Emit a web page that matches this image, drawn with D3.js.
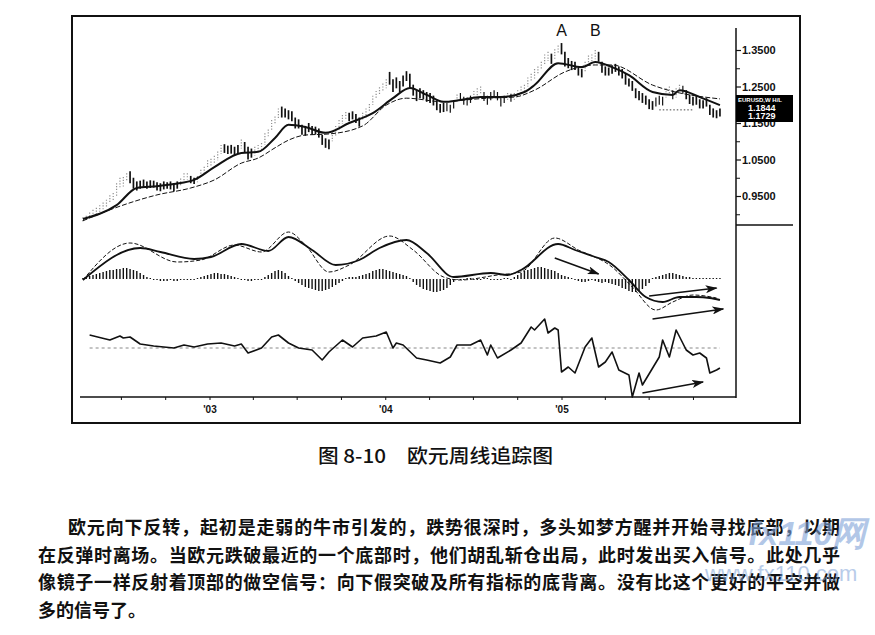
<!DOCTYPE html>
<html><head><meta charset="utf-8">
<script src="https://cdn.jsdelivr.net/npm/d3@7/dist/d3.min.js"></script>
<style>body{margin:0;background:#fff}svg{display:block}</style>
</head><body><svg id="c" width="875" height="635"></svg>
<script>
// ---------------- DATA ----------------
const firstWeek = "2002-04-12";           // weekly bars, one per Friday
const weekHigh = [
 .892,.896,.905,.912,.918,.925,.932,.940,.952,.958,
 .985,1.000,1.002,1.012,1.018,1.000,.990,.992,.995,.990,
 .993,.992,.988,.985,.990,.988,.990,.985,.990,.998,
 1.012,1.012,1.005,1.000,1.005,1.022,1.030,1.048,1.052,1.060,
 1.072,1.090,1.092,1.088,1.090,1.085,1.090,1.105,1.098,1.085,
 1.080,1.085,1.090,1.095,1.122,1.132,1.158,1.168,1.190,1.195,
 1.190,1.185,1.182,1.165,1.160,1.145,1.142,1.150,1.142,1.140,
 1.135,1.118,1.108,1.105,1.125,1.142,1.158,1.172,1.180,1.178,
 1.182,1.175,1.165,1.178,1.190,1.202,1.225,1.238,1.248,1.258,
 1.270,1.290,1.270,1.275,1.265,1.280,1.292,1.285,1.255,1.240,
 1.245,1.240,1.235,1.232,1.225,1.212,1.202,1.205,1.205,1.200,
 1.212,1.228,1.232,1.222,1.220,1.225,1.238,1.245,1.250,1.235,
 1.225,1.235,1.240,1.235,1.220,1.225,1.232,1.230,1.232,1.240,
 1.250,1.255,1.275,1.285,1.298,1.305,1.318,1.338,1.345,1.340,
 1.352,1.362,1.369,1.345,1.328,1.320,1.318,1.305,1.298,1.318,
 1.335,1.338,1.350,1.345,1.318,1.305,1.302,1.308,1.312,1.305,
 1.298,1.285,1.272,1.265,1.245,1.238,1.232,1.225,1.215,1.210,
 1.220,1.225,1.222,1.245,1.250,1.240,1.245,1.255,1.252,1.240,
 1.228,1.222,1.225,1.215,1.212,1.218,1.200,1.190,1.185,1.190];
const weekLow = [
 .877,.882,.889,.895,.900,.907,.912,.920,.930,.938,
 .950,.970,.975,.990,.985,.970,.965,.970,.972,.970,
 .972,.973,.965,.963,.968,.970,.968,.962,.970,.978,
 .990,.995,.985,.983,.988,1.000,1.010,1.025,1.030,1.038,
 1.048,1.065,1.068,1.065,1.066,1.062,1.065,1.080,1.070,1.050,
 1.055,1.060,1.068,1.075,1.090,1.110,1.130,1.145,1.160,1.165,
 1.165,1.160,1.155,1.135,1.135,1.118,1.115,1.125,1.118,1.118,
 1.110,1.090,1.082,1.078,1.100,1.115,1.130,1.148,1.160,1.155,
 1.160,1.150,1.140,1.155,1.165,1.180,1.200,1.215,1.225,1.235,
 1.245,1.255,1.235,1.245,1.235,1.250,1.265,1.245,1.225,1.210,
 1.218,1.215,1.208,1.205,1.198,1.185,1.178,1.180,1.182,1.178,
 1.190,1.205,1.212,1.200,1.198,1.205,1.218,1.225,1.228,1.210,
 1.200,1.212,1.218,1.212,1.195,1.205,1.212,1.208,1.212,1.218,
 1.228,1.235,1.250,1.262,1.272,1.285,1.295,1.310,1.320,1.312,
 1.325,1.340,1.338,1.305,1.300,1.295,1.295,1.280,1.275,1.292,
 1.310,1.312,1.325,1.318,1.288,1.280,1.280,1.285,1.290,1.280,
 1.272,1.255,1.250,1.238,1.218,1.212,1.205,1.200,1.188,1.186,
 1.195,1.200,1.198,1.220,1.228,1.215,1.220,1.232,1.230,1.215,
 1.202,1.198,1.200,1.190,1.190,1.195,1.172,1.165,1.163,1.168];
// bar colouring: u = rising (light), d = falling (dark), n = neutral
const weekStyle = ["uuuuuuuuuuuuuu","ddddddddddddddd","uuu","dd","uuuuuuuu","ddddd","u","ddd",
 "uuuuuuuu","ddddddddddddddd","uuuuu","dddd","uuuuuuuu","ddddddddddddddddd","nnn","u","nnnn",
 "uuu","nnnnnnn","u","n","uuuuuuuuuuu","d","uu","ddddddd","uuuu","ddddddddddddddddd","nnn",
 "uu","n","uu","n","ddddddddddd"].join("");

const fastWeek = [0,10,16,22,27,33,39,47,52,57,61,66,72,79,86,92,97,102,107,112,118,124,131,134,141,148,152,157,162,169,175,177,183,189];
const fastVal  = [.887,.925,.972,.977,.983,.994,1.029,1.068,1.071,1.109,1.145,1.139,1.123,1.150,1.177,1.218,1.246,1.227,1.208,1.213,1.221,1.221,1.235,1.254,1.314,1.303,1.317,1.303,1.281,1.235,1.227,1.240,1.221,1.199];
const slowWeek = [0,8,22,32,39,47,52,57,61,66,73,83,90,96,107,112,120,128,134,143,152,157,169,189];
const slowVal  = [.882,.912,.953,.972,.994,1.040,1.054,1.082,1.103,1.117,1.120,1.142,1.199,1.218,1.208,1.212,1.218,1.221,1.240,1.290,1.309,1.309,1.254,1.216];
const supportWeeks = [171,181], supportPrice = 1.186;

// MACD panel (units of 0.001)
const macdWeek = [0,17,23,33,38,47,55,61,68,75,82,88,96,102,110,121,126,130,141,146,152,156,162,167,172,177,182,186,189];
const macdVal  = [-1,31,27,20,22,35,28,42,29,14,19,31,39,26,2,6,4,9,35,29,22,17,-1,-18,-23,-18,-18,-19,-21];
const signalWeek = [0,14,28,35,45,53,61,66,73,79,91,98,107,112,123,130,140,147,157,163,170,175,181,188];
const signalVal  = [-1,36,17,19,34,27,47,34,7,14,43,29,2,-1,4,7,41,29,12,-8,-31,-23,-16,-19];
const histVal = [1,2,3,4,5,6,7,8,9,9,10,10,11,11,10,9,8,6,
 4,2,1,
 -1,-1,-2,-2,-2,-1,-2,-2,-1,-1,-1,0,0,
 1,
 2,3,4,5,6,6,5,5,4,3,2,1,
 -1,-1,-2,-2,-1,-1,0,
 2,4,6,8,9,8,6,3,1,
 -2,-4,-6,-8,-9,-10,-11,-12,-12,-11,-10,-8,-6,-4,-2,
 1,2,2,2,3,4,
 5,6,8,9,10,10,9,8,7,6,5,4,3,1,
 -3,-6,-8,-10,-11,-12,-13,-13,-12,-11,-9,-6,-3,
 0,-1,-1,1,1,-1,-1,0,1,1,-1,-1,0,-1,1,1,0,
 2,4,6,8,9,10,11,12,12,11,10,9,8,6,
 4,3,2,1,
 -1,-2,-3,-3,-2,-1,
 -2,-3,-4,-3,-4,-5,-6,
 -7,-9,-10,-12,-13,-13,-12,-10,-7,-4,
 1,2,3,4,5,6,6,5,4,3,2,2,1,1,
 1,1,1,1,1,1,1];

// lower oscillator panel
const oscWeek = [2,8,11,12,14,17,21,27,30,33,37,41,45,47,49,53,56,58,61,64,68,71,73,77,80,83,87,90,92,93,95,99,102,106,109,111,115,118,120,121,123,127,130,133,134,137,138,140,141,142,144,146,149,151,153,155,157,159,162,163,165,166,171,172,174,176,179,181,183,185,186,188,189];
const oscVal  = [13,8,12,10,11,4,2,0,3,1,4,5,2,4,-5,0,11,13,5,0,-2,-12,-4,8,1,10,12,16,0,5,3,-10,-12,-15,-9,3,3,8,-7,3,-10,-2,5,21,18,29,15,20,18,-24,-19,-25,1,10,-19,-14,-4,-22,-27,-49,-25,-37,-9,8,-9,18,-2,-7,-5,-10,-25,-22,-20];

// divergence arrows [fromWeek, fromValue, toWeek, toValue]
const macdArrows = [[140,21,153,5],[168,-17,188,-9],[169,-40,190,-30]];
const oscArrows  = [[166,-45,184,-34]];

const priceTicks = [0.95,1.05,1.15,1.25,1.35];
const priceMinorTicks = [0.90,1.00,1.10,1.20,1.30];
const yearTicks = ["2003-01-01","2004-01-01","2005-01-01"];
const yearLabels = ["'03","'04","'05"];
const peakLabels = [{t:"A",w:142},{t:"B",w:152}];
const lastQuote = ["EURUSD,W  H/L","1.1844","1.1729"];

const captionNum = "图 8-10";
const captionTitle = "欧元周线追踪图";
const paragraph = [
 "欧元向下反转，起初是走弱的牛市引发的，跌势很深时，多头如梦方醒并开始寻找底部，以期",
 "在反弹时离场。当欧元跌破最近的一个底部时，他们胡乱斩仓出局，此时发出买入信号。此处几乎",
 "像镜子一样反射着顶部的做空信号：向下假突破及所有指标的底背离。没有比这个更好的平空并做",
 "多的信号了。"];

// ---------------- DRAW ----------------
const svg = d3.select("#c");
const parse = d3.utcParse("%Y-%m-%d");
const w0 = parse(firstWeek);
const wd = i => d3.utcDay.offset(w0, 7*i);

const x = d3.scaleUtc().domain([parse("2003-01-01"), parse("2005-01-01")]).range([210, 562]);
const xw = i => x(wd(i));
const yP = d3.scaleLinear().domain([0.95, 1.35]).range([196, 50]);
const yM = d3.scaleLinear().domain([-45, 55]).range([324, 224]);
const yO = d3.scaleLinear().domain([-50, 30]).range([398, 318]);

const ink = "#111";
const defs = svg.append("defs");
defs.append("marker").attr("id","ah").attr("viewBox","0 0 12 8")
  .attr("markerUnits","userSpaceOnUse").attr("markerWidth",12).attr("markerHeight",8)
  .attr("refX",11).attr("refY",4).attr("orient","auto")
  .append("path").attr("d","M0,0 L12,4 L0,8 L3,4 Z").attr("fill",ink);

// frame
svg.append("rect").attr("x",72).attr("y",16).attr("width",728).attr("height",407)
  .attr("fill","none").attr("stroke",ink).attr("stroke-width",2);

// price axis
const ax = 736;
svg.append("line").attr("x1",ax).attr("x2",ax).attr("y1",28).attr("y2",398).attr("stroke",ink).attr("stroke-width",1.5);
svg.append("line").attr("x1",ax).attr("x2",793).attr("y1",225).attr("y2",225).attr("stroke",ink).attr("stroke-width",1.5);
const pa = svg.append("g").attr("transform",`translate(${ax},0)`)
  .call(d3.axisRight(yP).tickValues(priceTicks).tickFormat(d3.format(".4f")).tickSize(5).tickPadding(1));
pa.select(".domain").remove();
pa.selectAll("text").attr("font-family","Liberation Sans, Arial").attr("font-weight","bold").attr("font-size",11).attr("fill",ink);
pa.selectAll("line").attr("stroke",ink).attr("stroke-width",1.2);
const pm = svg.append("g").attr("transform",`translate(${ax},0)`)
  .call(d3.axisRight(yP).tickValues(priceMinorTicks).tickFormat("").tickSize(4));
pm.select(".domain").remove();
pm.selectAll("line").attr("stroke",ink);

// time axis
svg.append("line").attr("x1",80).attr("x2",ax).attr("y1",397).attr("y2",397).attr("stroke",ink).attr("stroke-width",1.5);
const qTicks = d3.utcMonth.every(3).range(wd(0), wd(192));
svg.append("g").selectAll("line").data(qTicks).join("line")
  .attr("x1",d=>x(d)).attr("x2",d=>x(d)).attr("y1",397).attr("y2",400).attr("stroke",ink);
svg.append("g").selectAll("text").data(yearTicks).join("text")
  .attr("x",d=>x(parse(d))).attr("y",413).attr("text-anchor","middle")
  .attr("font-family","Liberation Sans, Arial").attr("font-weight","bold").attr("font-size",10).attr("fill",ink)
  .text((d,i)=>yearLabels[i]);

// price bars
const bars = d3.range(weekHigh.length);
svg.append("g").selectAll("line").data(bars).join("line")
  .attr("x1",i=>xw(i)).attr("x2",i=>xw(i))
  .attr("y1",i=>yP(weekHigh[i])).attr("y2",i=>yP(weekLow[i]))
  .attr("stroke",i=>weekStyle[i]==="u" ? "#8f8f8f" : ink)
  .attr("stroke-width",i=>weekStyle[i]==="d" ? 1.7 : (weekStyle[i]==="n" ? 1.2 : 1.2))
  .attr("stroke-dasharray",i=>weekStyle[i]==="u" ? "1.2,1.6" : null);

// support dotted line
svg.append("line").attr("x1",xw(supportWeeks[0])).attr("x2",xw(supportWeeks[1]))
  .attr("y1",yP(supportPrice)).attr("y2",yP(supportPrice))
  .attr("stroke","#444").attr("stroke-width",1).attr("stroke-dasharray","1.5,2");

// moving averages
const lineP = d3.line().x(d=>xw(d[0])).y(d=>yP(d[1])).curve(d3.curveMonotoneX);
svg.append("path").attr("d",lineP(slowWeek.map((w,i)=>[w,slowVal[i]])))
  .attr("fill","none").attr("stroke",ink).attr("stroke-width",1).attr("stroke-dasharray","5,2");
svg.append("path").attr("d",lineP(fastWeek.map((w,i)=>[w,fastVal[i]])))
  .attr("fill","none").attr("stroke",ink).attr("stroke-width",2);

// peak labels
svg.append("g").selectAll("text").data(peakLabels).join("text")
  .attr("x",d=>xw(d.w)).attr("y",36).attr("text-anchor","middle")
  .attr("font-family","Liberation Sans, Arial").attr("font-size",16).attr("fill",ink)
  .text(d=>d.t);

// last quote box
svg.append("rect").attr("x",ax).attr("y",95).attr("width",57).attr("height",27).attr("fill","#000");
svg.append("g").selectAll("text").data(lastQuote).join("text")
  .attr("x",(d,i)=> i===0 ? ax+2 : ax+12).attr("y",(d,i)=>102+i*8.5)
  .attr("font-family","Liberation Sans, Arial").attr("font-weight","bold")
  .attr("font-size",(d,i)=> i===0 ? 6 : 9).attr("fill","#fff").text(d=>d);

// MACD histogram
svg.append("g").selectAll("line").data(histVal.map((v,i)=>[i,v])).join("line")
  .attr("x1",d=>xw(d[0])).attr("x2",d=>xw(d[0]))
  .attr("y1",yM(0)).attr("y2",d=> d[1]===0 ? yM(0)+1 : yM(d[1]))
  .attr("stroke",ink).attr("stroke-width",1.4);
const lineM = d3.line().x(d=>xw(d[0])).y(d=>yM(d[1])).curve(d3.curveMonotoneX);
svg.append("path").attr("d",lineM(signalWeek.map((w,i)=>[w,signalVal[i]])))
  .attr("fill","none").attr("stroke",ink).attr("stroke-width",1).attr("stroke-dasharray","4,2");
svg.append("path").attr("d",lineM(macdWeek.map((w,i)=>[w,macdVal[i]])))
  .attr("fill","none").attr("stroke",ink).attr("stroke-width",1.8);

// oscillator
svg.append("line").attr("x1",xw(2)).attr("x2",xw(189)).attr("y1",yO(0)).attr("y2",yO(0))
  .attr("stroke","#888").attr("stroke-width",1).attr("stroke-dasharray","3,3");
svg.append("path").attr("d",d3.line().x(d=>xw(d[0])).y(d=>yO(d[1]))(oscWeek.map((w,i)=>[w,oscVal[i]])))
  .attr("fill","none").attr("stroke",ink).attr("stroke-width",1.6).attr("stroke-linejoin","round");

// arrows
const arr = svg.append("g");
arr.selectAll("line.m").data(macdArrows).join("line").attr("class","m")
  .attr("x1",d=>xw(d[0])).attr("y1",d=>yM(d[1])).attr("x2",d=>xw(d[2])).attr("y2",d=>yM(d[3]))
  .attr("stroke",ink).attr("stroke-width",1.6).attr("marker-end","url(#ah)");
arr.selectAll("line.o").data(oscArrows).join("line").attr("class","o")
  .attr("x1",d=>xw(d[0])).attr("y1",d=>yO(d[1])).attr("x2",d=>xw(d[2])).attr("y2",d=>yO(d[3]))
  .attr("stroke",ink).attr("stroke-width",1.6).attr("marker-end","url(#ah)");

// caption
svg.append("text").attr("x",318).attr("y",463).attr("textLength",68).attr("lengthAdjust","spacingAndGlyphs")
  .attr("font-family","Noto Sans CJK SC").attr("font-weight",500).attr("font-size",19).attr("fill",ink)
  .text(captionNum);
svg.append("text").attr("x",407).attr("y",463).attr("textLength",146).attr("lengthAdjust","spacingAndGlyphs")
  .attr("font-family","Noto Sans CJK SC").attr("font-weight",500).attr("font-size",19).attr("fill",ink)
  .text(captionTitle);

// paragraph
const pLines = [{x:68,w:772},{x:38,w:802},{x:38,w:802},{x:38,w:null}];
svg.append("g").selectAll("text").data(paragraph).join("text")
  .attr("x",(d,i)=>pLines[i].x).attr("y",(d,i)=>534+i*27.5)
  .attr("textLength",(d,i)=>pLines[i].w).attr("lengthAdjust","spacing")
  .attr("font-family","Noto Sans CJK SC").attr("font-weight",700).attr("font-size",18).attr("fill",ink)
  .text(d=>d);

// watermark
svg.append("text").attr("x",748).attr("y",545).attr("font-family","Liberation Sans, Arial")
  .attr("font-weight","bold").attr("font-style","italic").attr("font-size",34)
  .attr("fill","#7fa3d8").attr("opacity",0.6).text("fx110网");
svg.append("text").attr("x",705).attr("y",581).attr("font-family","Liberation Sans, Arial")
  .attr("font-size",22).attr("fill","#7fa3d8").attr("opacity",0.55).text("www.fx110.com");
</script></body></html>
